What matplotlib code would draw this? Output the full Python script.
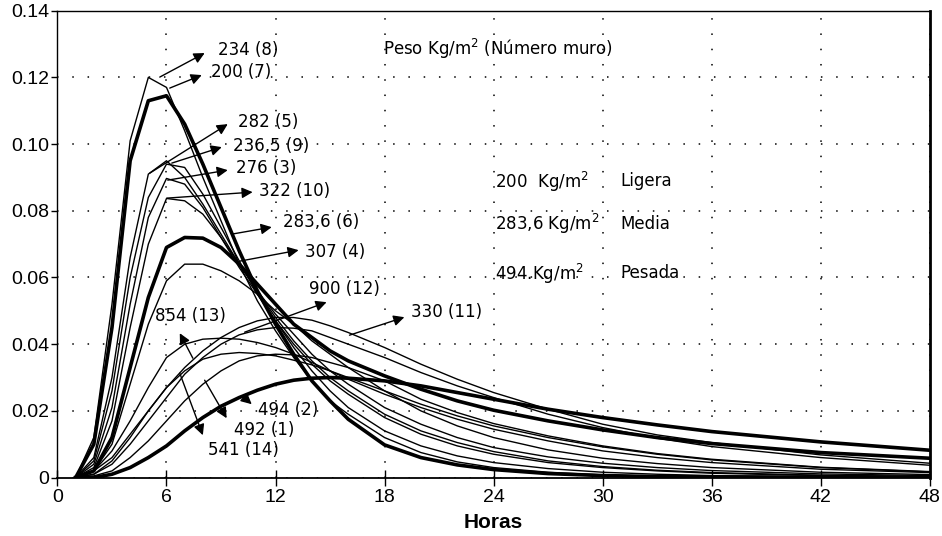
import matplotlib
matplotlib.use('Agg')
import matplotlib.pyplot as plt

plt.rcParams['font.family'] = ['Liberation Sans', 'DejaVu Sans']

# hours shared by every curve
hours = [1, 2, 3, 4, 5, 6, 7, 8, 9, 10, 11, 12, 13, 14, 15, 16, 18, 20, 22, 24, 27, 30, 33, 36, 42, 48]

# response factor per wall (weight kg/m2, wall number)
w8_234 = [0, 0.012, 0.052, 0.101, 0.120, 0.117, 0.104, 0.090, 0.077, 0.064, 0.053, 0.044, 0.036, 0.029,
          0.023, 0.019, 0.012, 0.0075, 0.0047, 0.003, 0.0016, 0.0008, 0.0004, 0.0002, 0.0001, 0]
w7_200 = [0, 0.010, 0.045, 0.095, 0.113, 0.1145, 0.106, 0.094, 0.081, 0.068, 0.056, 0.046, 0.037, 0.029,
          0.023, 0.0175, 0.0098, 0.006, 0.0038, 0.0024, 0.0012, 0.0006, 0.0003, 0.0002, 0.0001, 0]
w5_282 = [0, 0.006, 0.030, 0.066, 0.091, 0.095, 0.090, 0.082, 0.073, 0.064, 0.056, 0.048, 0.041, 0.035,
          0.030, 0.026, 0.019, 0.014, 0.0105, 0.0078, 0.005, 0.0033, 0.0022, 0.0015, 0.0007, 0.0003]
w9_236 = [0, 0.005, 0.026, 0.060, 0.084, 0.094, 0.093, 0.085, 0.075, 0.065, 0.055, 0.047, 0.039, 0.032,
          0.026, 0.021, 0.014, 0.0095, 0.0065, 0.0045, 0.0027, 0.0016, 0.001, 0.0006, 0.0002, 0.0001]
w3_276 = [0, 0.004, 0.021, 0.052, 0.078, 0.0897, 0.088, 0.081, 0.072, 0.063, 0.055, 0.047, 0.040, 0.034,
          0.029, 0.025, 0.018, 0.013, 0.0095, 0.007, 0.0045, 0.003, 0.002, 0.0013, 0.0006, 0.0003]
w10_322 = [0, 0.003, 0.017, 0.045, 0.070, 0.0837, 0.083, 0.079, 0.072, 0.064, 0.056, 0.049, 0.043, 0.037,
           0.032, 0.028, 0.021, 0.016, 0.012, 0.009, 0.0062, 0.0043, 0.003, 0.0021, 0.0011, 0.0006]
w6_283 = [0, 0.002, 0.012, 0.033, 0.054, 0.069, 0.072, 0.0718, 0.069, 0.064, 0.058, 0.052, 0.046, 0.042,
          0.038, 0.035, 0.0305, 0.0265, 0.023, 0.0202, 0.017, 0.0143, 0.012, 0.0102, 0.0075, 0.0058]
w4_307 = [0, 0.002, 0.010, 0.028, 0.046, 0.059, 0.064, 0.064, 0.062, 0.059, 0.055, 0.050, 0.046, 0.041,
          0.037, 0.033, 0.026, 0.020, 0.0155, 0.012, 0.0083, 0.0058, 0.0042, 0.003, 0.0016, 0.0009]
w11_330 = [0, 0.002, 0.006, 0.013, 0.020, 0.027, 0.033, 0.038, 0.042, 0.045, 0.047, 0.048, 0.048, 0.0472,
           0.0455, 0.0435, 0.039, 0.034, 0.0295, 0.0255, 0.0205, 0.016, 0.0128, 0.0105, 0.0068, 0.0043]
w2_494 = [0, 0, 0.001, 0.003, 0.006, 0.0095, 0.014, 0.018, 0.0214, 0.024, 0.0262, 0.028, 0.0292, 0.0298,
          0.030, 0.0298, 0.029, 0.0275, 0.0255, 0.0235, 0.0205, 0.018, 0.0158, 0.0138, 0.0107, 0.0082]
w12_900 = [0, 0.001, 0.004, 0.010, 0.017, 0.024, 0.031, 0.036, 0.040, 0.0428, 0.0443, 0.045, 0.0448, 0.044,
           0.042, 0.040, 0.036, 0.0315, 0.0275, 0.024, 0.019, 0.015, 0.0118, 0.0093, 0.006, 0.0037]
w13_854 = [0, 0.002, 0.008, 0.017, 0.027, 0.036, 0.040, 0.0415, 0.0418, 0.0415, 0.0405, 0.039, 0.037, 0.0345,
           0.032, 0.0295, 0.025, 0.021, 0.0175, 0.0145, 0.011, 0.008, 0.006, 0.0045, 0.0025, 0.0015]
w1_492 = [0, 0.001, 0.005, 0.012, 0.020, 0.027, 0.032, 0.0355, 0.037, 0.0375, 0.0372, 0.0365, 0.0352, 0.0338,
          0.032, 0.030, 0.026, 0.022, 0.0185, 0.0155, 0.012, 0.0092, 0.007, 0.0053, 0.003, 0.0017]
w14_541 = [0, 0.0005, 0.002, 0.006, 0.011, 0.017, 0.023, 0.028, 0.032, 0.035, 0.0365, 0.037, 0.0368, 0.036,
           0.0345, 0.033, 0.029, 0.0235, 0.0195, 0.0162, 0.0125, 0.0095, 0.0072, 0.0055, 0.0031, 0.0018]

thin_curves = [w8_234, w5_282, w9_236, w3_276, w10_322, w4_307, w11_330, w12_900, w13_854, w1_492, w14_541]
bold_curves = [w7_200, w6_283, w2_494]  # ligera, media, pesada

# labels: text, text position, arrow tail, arrow head (hours, value)
labels = ['234 (8)', '200 (7)', '282 (5)', '236,5 (9)', '276 (3)', '322 (10)', '283,6 (6)',
          '307 (4)', '900 (12)', '330 (11)', '854 (13)', '494 (2)', '492 (1)', '541 (14)']
label_xy = [(8.82, 0.1282), (8.43, 0.1216), (9.92, 0.1066), (9.64, 0.0994), (9.81, 0.0928),
            (11.07, 0.0859), (12.39, 0.0766), (13.6, 0.0676), (13.82, 0.0565), (19.48, 0.0496),
            (5.36, 0.0484), (11.02, 0.0202), (9.70, 0.0142), (8.27, 0.0082)]
arrow_tail = [(5.63, 0.1201), (6.18, 0.1168), (5.08, 0.0913), (6.29, 0.0943), (6.07, 0.0892),
              (6.02, 0.0838), (9.59, 0.0730), (10.03, 0.0649), (10.3, 0.0436), (16.07, 0.0427),
              (7.45, 0.0358), (10.19, 0.0244), (8.10, 0.0292), (6.73, 0.0313)]
arrow_head = [(8.10, 0.1273), (7.94, 0.1207), (9.37, 0.1060), (9.04, 0.0991), (9.37, 0.0922),
              (10.74, 0.0856), (11.79, 0.0751), (13.27, 0.0682), (14.81, 0.0526), (19.09, 0.0481),
              (6.73, 0.0433), (10.69, 0.0220), (9.31, 0.0178), (8.0, 0.0127)]

x_ticks = [0, 6, 12, 18, 24, 30, 36, 42, 48]
y_ticks = [0, 0.02, 0.04, 0.06, 0.08, 0.10, 0.12, 0.14]
y_ticklabels = ['0', '0.02', '0.04', '0.06', '0.08', '0.10', '0.12', '0.14']

note_font = dict(family=['DejaVu Sans'], fontsize=12, ha='left', va='center')

fig = plt.figure(figsize=(9.42, 5.36), dpi=100)
ax = fig.add_axes([0.061, 0.109, 0.926, 0.871])

for vals in thin_curves:
    ax.plot(hours, vals, color='black', lw=1.0)
for vals in bold_curves:
    ax.plot(hours, vals, color='black', lw=2.6)

for txt, pos, tail, head in zip(labels, label_xy, arrow_tail, arrow_head):
    ax.annotate('', xy=head, xytext=tail,
                arrowprops=dict(arrowstyle='-|>', color='black', lw=1.0, mutation_scale=16,
                                shrinkA=0, shrinkB=0))
    ax.text(pos[0], pos[1], txt, **note_font)

# legend-like notes
ax.text(17.9, 0.1285, 'Peso Kg/m$^2$ (Número muro)', **note_font)
ax.text(24.1, 0.0888, '200  Kg/m$^2$', **note_font)
ax.text(31.0, 0.0888, 'Ligera', **note_font)
ax.text(24.1, 0.0760, '283,6 Kg/m$^2$', **note_font)
ax.text(31.0, 0.0760, 'Media', **note_font)
ax.text(24.1, 0.0612, '494.Kg/m$^2$', **note_font)
ax.text(31.0, 0.0612, 'Pesada', **note_font)

ax.set_xlim(0, 48)
ax.set_ylim(0, 0.14)
ax.set_xticks(x_ticks)
ax.set_yticks(y_ticks)
ax.set_yticklabels(y_ticklabels)
ax.tick_params(axis='x', direction='inout', length=12, width=1, labelsize=14, pad=2)
ax.tick_params(axis='y', direction='out', length=4, width=1, labelsize=14, pad=2)
ax.grid(True, color='black', linestyle=(0, (1, 9)), lw=1.1)
ax.set_xlabel('Horas', fontsize=15, fontweight='bold', labelpad=5)

for side in ['left', 'top']:
    ax.spines[side].set_linewidth(1.0)
ax.spines['bottom'].set_linewidth(1.3)
ax.spines['right'].set_linewidth(2.0)

plt.savefig('out.png', dpi=100)
plt.close('all')
